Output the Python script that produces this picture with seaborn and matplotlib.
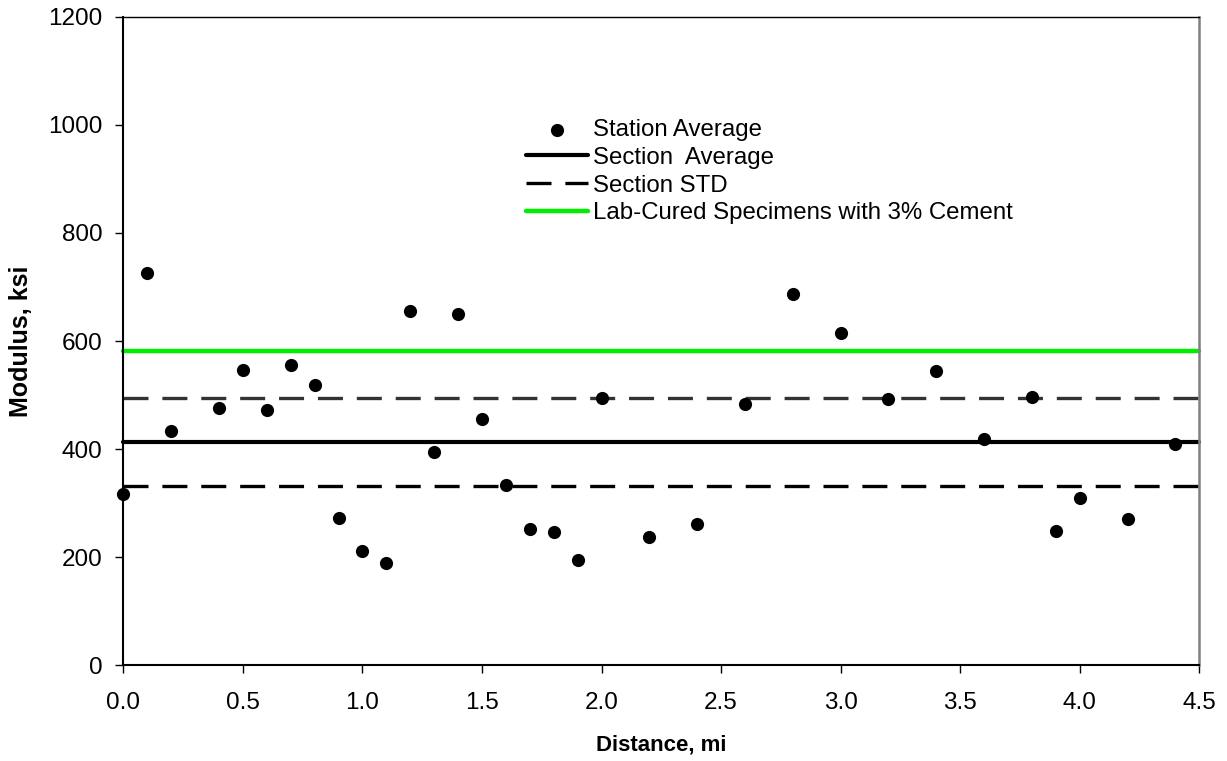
import matplotlib
matplotlib.use("Agg")
import matplotlib.pyplot as plt
import seaborn as sns
import pandas as pd

distance = [0.0, 0.1, 0.2, 0.4, 0.5, 0.6, 0.7, 0.8, 0.9, 1.0, 1.1, 1.2, 1.3, 1.4, 1.5,
            1.6, 1.7, 1.8, 1.9, 2.0, 2.2, 2.4, 2.6, 2.8, 3.0, 3.2, 3.4, 3.6, 3.8, 3.9,
            4.0, 4.2, 4.4]
modulus = [317, 726, 434, 476, 546, 472, 556, 519, 273, 211, 189, 655, 394, 650, 456,
           334, 252, 246, 194, 494, 237, 262, 484, 687, 615, 493, 544, 419, 496, 249,
           309, 271, 410]
section_avg = 413
section_std = 82
lab_cured = 582

x_ticks = [0.0, 0.5, 1.0, 1.5, 2.0, 2.5, 3.0, 3.5, 4.0, 4.5]
y_ticks = [0, 200, 400, 600, 800, 1000, 1200]

sns.set_theme(style="white")
plt.rcParams["font.family"] = ["Liberation Sans", "DejaVu Sans"]
plt.rcParams["lines.scale_dashes"] = False
plt.rcParams["text.color"] = "black"
plt.rcParams["axes.labelcolor"] = "black"

fig = plt.figure(figsize=(12.27, 7.61), dpi=100)
ax = fig.add_axes([0.1005, 0.1258, 0.9774 - 0.1005, 0.978 - 0.1258])

df = pd.DataFrame({"Distance": distance, "Modulus": modulus})
xs = [x_ticks[0], x_ticks[-1]]

sns.lineplot(x=xs, y=[lab_cured, lab_cured], ax=ax, color="#00ee00", lw=3.2,
             label="Lab-Cured Specimens with 3% Cement", clip_on=False, zorder=2)
sns.lineplot(x=xs, y=[section_avg + section_std] * 2, ax=ax, color="#333333", lw=2.4,
             clip_on=False, zorder=2)
ax.lines[-1].set_dashes((18, 10))
sns.lineplot(x=xs, y=[section_avg - section_std] * 2, ax=ax, color="black", lw=2.4,
             label="Section STD", clip_on=False, zorder=2)
ax.lines[-1].set_dashes((18, 10))
sns.lineplot(x=xs, y=[section_avg, section_avg], ax=ax, color="black", lw=3.0,
             label="Section  Average", clip_on=False, zorder=2)
sns.scatterplot(data=df, x="Distance", y="Modulus", ax=ax, color="black", s=90,
                edgecolor="black", linewidth=0, label="Station Average", zorder=3,
                clip_on=False)

ax.set_xlim(0, 4.5)
ax.set_ylim(0, 1200)
ax.set_xticks(x_ticks)
ax.set_xticklabels([f"{t:.1f}" for t in x_ticks])
ax.set_yticks(y_ticks)
ax.set_yticklabels([str(t) for t in y_ticks])
ax.tick_params(axis="both", direction="out", length=6, width=1, colors="black",
               labelsize=17.5, labelcolor="black")
ax.tick_params(axis="x", pad=13)
ax.tick_params(axis="y", pad=9)
ax.xaxis.set_ticks_position("bottom")
ax.yaxis.set_ticks_position("left")

for side in ["left", "bottom"]:
    ax.spines[side].set_color("black")
    ax.spines[side].set_linewidth(1.5)
ax.spines["top"].set_color("black")
ax.spines["top"].set_linewidth(1.0)
ax.spines["right"].set_color("#808080")
ax.spines["right"].set_linewidth(1.8)

ax.set_xlabel("Distance, mi", fontsize=16, fontweight="bold", labelpad=15,
              color="black")
ax.set_ylabel("Modulus, ksi", fontsize=18, fontweight="bold", labelpad=11,
              color="black")

handles, labels = ax.get_legend_handles_labels()
order = ["Station Average", "Section  Average", "Section STD",
         "Lab-Cured Specimens with 3% Cement"]
hmap = dict(zip(labels, handles))
leg = ax.legend([hmap[k] for k in order], order, loc="upper left",
                bbox_to_anchor=(525.7 / 1227, 1 - 119 / 761),
                bbox_transform=fig.transFigure, frameon=False, fontsize=17.3,
                handlelength=2.6, handletextpad=0.22, labelspacing=0.24,
                borderpad=0, borderaxespad=0, markerscale=1.0)
for t in leg.get_texts():
    t.set_color("black")

fig.savefig("out.png", dpi=100)
